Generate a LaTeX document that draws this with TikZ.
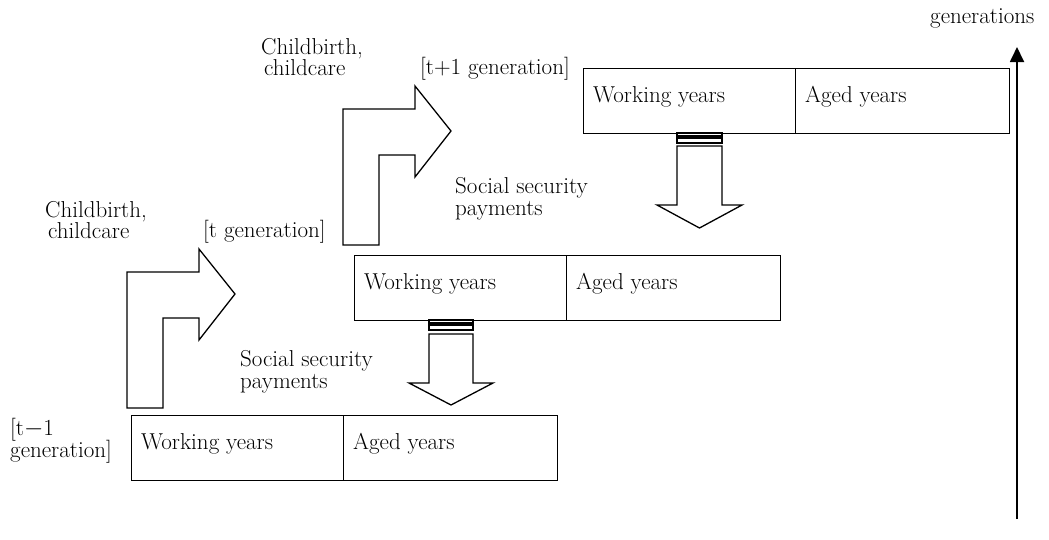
\documentclass[tikz,border=0pt]{standalone}
\usepackage{fontspec}
\setmainfont{Latin Modern Roman}
\usetikzlibrary{arrows.meta}
\begin{document}
\begin{tikzpicture}[x=1pt,y=-1pt,
  cell/.style={draw=black,line width=1.3pt,fill=white,inner sep=0pt,minimum height=65pt,anchor=north west},
  lbl/.style={anchor=base west,inner sep=0pt,font=\fontsize{23}{22}\selectfont},
  shp/.style={draw=black,line width=1.3pt,fill=white,line join=miter}]
\useasboundingbox (0,0) rectangle (1049,539);
% boxes
\node[cell,minimum width=212pt] (w3) at (583,68) {};
\node[cell,minimum width=214pt] (a3) at (795,68) {};
\node[cell,minimum width=212pt] (w2) at (354,255) {};
\node[cell,minimum width=214pt] (a2) at (566,255) {};
\node[cell,minimum width=212pt] (w1) at (131,415) {};
\node[cell,minimum width=214pt] (a1) at (343,415) {};
\node[lbl] (tw3) at (593,102) {Working years};
\node[lbl] (ta3) at (805,102) {Aged years};
\node[lbl] (tw2) at (364,289) {Working years};
\node[lbl] (ta2) at (576,289) {Aged years};
\node[lbl] (tw1) at (141,449) {Working years};
\node[lbl] (ta1) at (353,449) {Aged years};
% bent arrows
\draw[shp] (127,408) -- (127,272) -- (199,272) -- (199,249) -- (235,294) -- (199,340) -- (199,318) -- (163,318) -- (163,408) -- cycle;
\begin{scope}[shift={(216,-163)}]
\draw[shp] (127,408) -- (127,272) -- (199,272) -- (199,249) -- (235,294) -- (199,340) -- (199,318) -- (163,318) -- (163,408) -- cycle;
\end{scope}
% down arrows
\draw[shp] (677,133) rectangle (722,136);
\draw[shp] (677,138) rectangle (722,143);
\draw[shp] (677,146) -- (677,205) -- (657,205) -- (699.5,228) -- (742,205) -- (722,205) -- (722,146) -- cycle;
\draw[shp] (429,320) rectangle (473,323);
\draw[shp] (429,325) rectangle (473,330);
\draw[shp] (429,334) -- (429,383) -- (409,383) -- (451,405) -- (493,383) -- (473,383) -- (473,334) -- cycle;
% axis
\coordinate (ab) at (1017,519);
\coordinate (at) at (1017,47);
\draw[line width=1.8pt,-{Triangle[length=15pt,width=14pt]}] (ab) -- (at);
% labels
\node[lbl] (gen) at (930,23) {generations};
\node[lbl] (cb2a) at (261,54) {Childbirth,};
\node[lbl] (cb2b) at (264,75) {childcare};
\node[lbl] (tp1) at (420,74) {[t+1 generation]};
\node[lbl] (ss2a) at (455,193) {Social security};
\node[lbl] (ss2b) at (455,215) {payments};
\node[lbl] (cb1a) at (45,217) {Childbirth,};
\node[lbl] (cb1b) at (48,238) {childcare};
\node[lbl] (tg) at (203,237) {[t generation]};
\node[lbl] (ss1a) at (240,366) {Social security};
\node[lbl] (ss1b) at (240,388) {payments};
\node[lbl] (tm1a) at (10,435) {[t$-$1};
\node[lbl] (tm1b) at (10,457) {generation]};
\end{tikzpicture}
\end{document}
